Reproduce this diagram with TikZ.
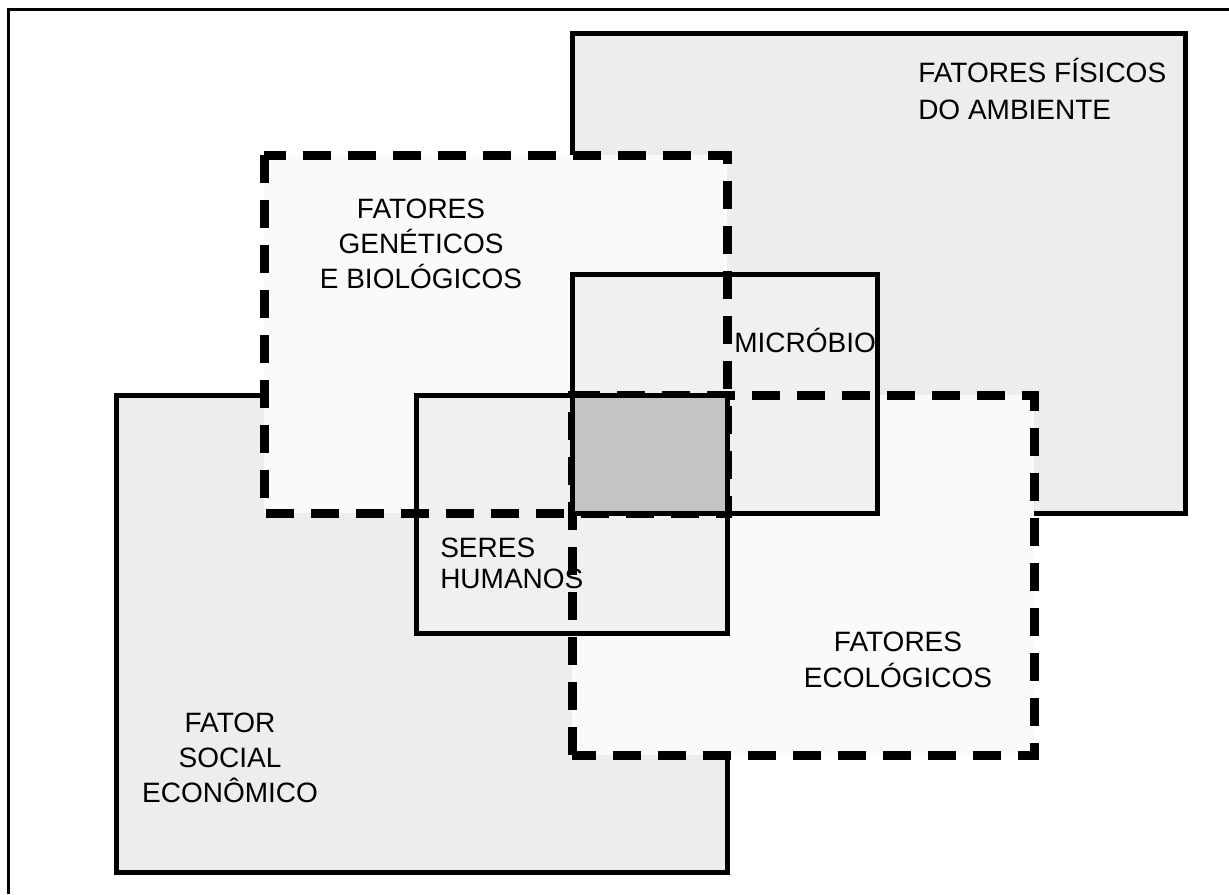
\documentclass[tikz,border=0pt]{standalone}
\usepackage{fontspec}
\setmainfont{Liberation Sans}
\usepackage{tikz}
\definecolor{cinza}{HTML}{ECEDEF}
\definecolor{clara}{HTML}{FAFAFA}
\definecolor{media}{HTML}{EFF0F0}
\definecolor{escura}{HTML}{C4C4C4}
\tikzstyle{moldura} = [draw=black, line width=2.25pt]
\tikzstyle{solido} = [draw=black, line width=3.75pt]
\tikzstyle{tracejado} = [draw=black, line width=6.75pt, dash pattern=on 21pt off 12.75pt]
\tikzset{rotulo/.style={inner sep=0pt, font=\fontsize{21}{#1}\selectfont},
  rotulo/.default=26}

\begin{document}
\begin{tikzpicture}[x=0.75pt, y=-0.75pt]
  \useasboundingbox (0,0) rectangle (1229,894);
  \draw [moldura] (8,894) -- (8,9.5) -- (1229,9.5);
  \draw [solido, fill=cinza] (572,33) rectangle (1185,513);
  \draw [solido, fill=cinza] (116,395) rectangle (727,872);
  \fill [clara] (264,155) rectangle (727,513);
  \fill [clara] (572,395) rectangle (1034,755);
  \fill [media] (572,274) rectangle (877,513);
  \fill [media] (416,395) rectangle (727,633);
  \draw [tracejado] (264,155) rectangle (727,513);
  \draw [tracejado] (572,755) rectangle (1034,395);
  \fill [escura] (572,395) rectangle (727,513);
  \draw [solido] (572,274) rectangle (877,513);
  \draw [solido] (416,395) rectangle (727,633);
  \node [rotulo=27.5, anchor=base west, align=left] (fisicos) at (918,119)
    {FATORES FÍSICOS\\DO AMBIENTE};
  \node [rotulo=26.25, anchor=base, align=center] (geneticos) at (421,288)
    {FATORES\\GENÉTICOS\\E BIOLÓGICOS};
  \node [rotulo, anchor=base west] (microbio) at (734,352) {MICRÓBIO};
  \node [rotulo=23.25, anchor=base west, align=left] (humanos) at (440,588)
    {SERES\\HUMANOS};
  \node [rotulo=27, anchor=base, align=center] (ecologicos) at (898,687)
    {FATORES\\ECOLÓGICOS};
  \node [rotulo=25.9, anchor=base, align=center] (social) at (230,802)
    {FATOR\\SOCIAL\\ECONÔMICO};
\end{tikzpicture}
\end{document}
